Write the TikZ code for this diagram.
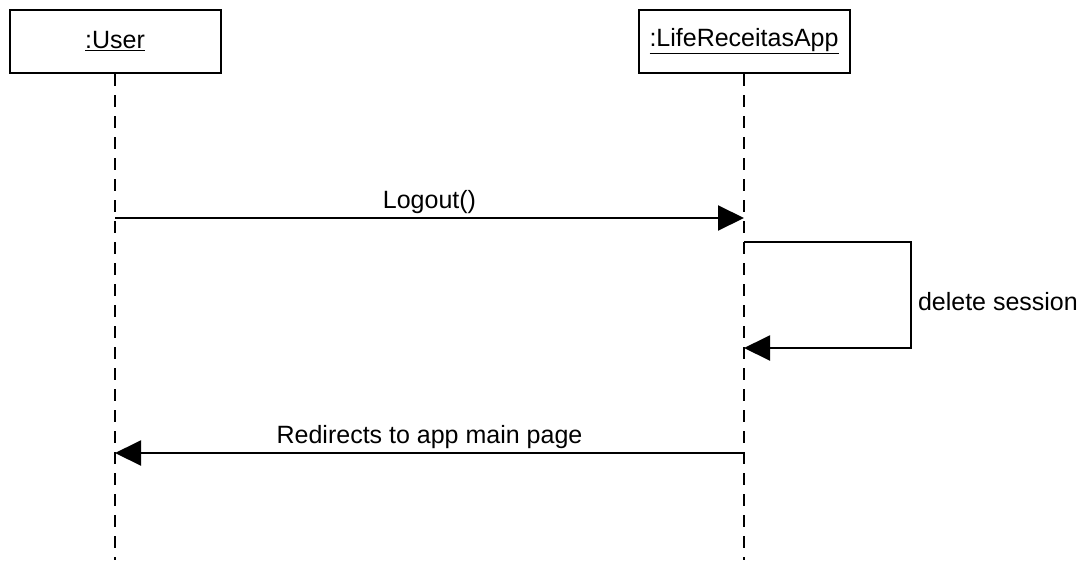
\documentclass[tikz,border=0pt]{standalone}
\usepackage{fontspec}
\setmainfont{Liberation Sans}
\usetikzlibrary{arrows.meta}

\begin{document}
\begin{tikzpicture}[x=1pt,y=-1pt,
    lifebox/.style={draw,line width=2pt,minimum width=211pt,minimum height=63pt,inner sep=0pt},
    lifeline/.style={line width=1.6pt,dash pattern=on 12pt off 9pt},
    msg/.style={line width=2pt,-{Triangle[length=26pt,width=25pt]}},
    msgtext/.style={font=\fontsize{25}{30}\selectfont,inner sep=3pt}
]
\useasboundingbox (0,0) rectangle (1086,560);

% Teilnehmer
\node[lifebox,msgtext] (user) at (115,41.5) {\underline{:User}};
\node[lifebox,msgtext] (app) at (744,41.5) {\underline{:LifeReceitasApp}};

% Lebenslinien
\coordinate (userend) at (115,560);
\coordinate (append) at (744,560);
\draw[lifeline] (user.south) -- (userend);
\draw[lifeline] (app.south) -- (append);

% Punkte auf den Lebenslinien
\coordinate (logoutA) at (115,218);
\coordinate (logoutB) at (744,218);
\coordinate (selfA) at (744,242);
\coordinate (selfB) at (744,348);
\coordinate (backA) at (744,453);
\coordinate (backB) at (115,453);

% Nachrichten
\draw[msg] (logoutA) -- node[msgtext,above] (logout) {Logout()} (logoutB);
\draw[msg] (selfA) -- ++(167,0) -- node[msgtext,right,inner sep=6pt,yshift=-7pt] (delete) {delete session} ++(0,106) -- (selfB);
\draw[msg] (backA) -- node[msgtext,above] (redirect) {Redirects to app main page} (backB);

\end{tikzpicture}
\end{document}
